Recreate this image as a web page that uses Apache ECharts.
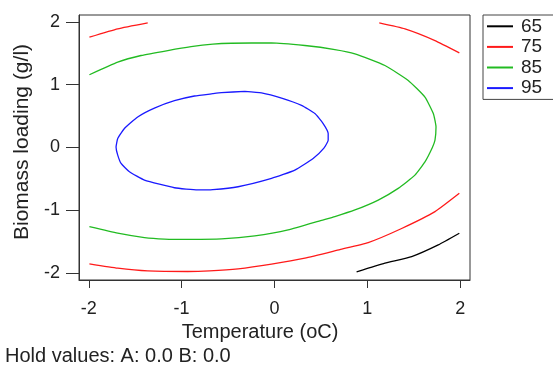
<!DOCTYPE html>
<html>
<head>
<meta charset="utf-8">
<script src="https://cdn.jsdelivr.net/npm/echarts@6/dist/echarts.min.js"></script>
<style>
  html, body { margin: 0; padding: 0; background: #fff; }
  #chart { width: 553px; height: 366px; }
</style>
</head>
<body>
<div id="chart"></div>
<script>
// contour levels and tick values
const levels = ["65", "75", "85", "95"];
const xTicks = [-2, -1, 0, 1, 2];
const yTicks = [-2, -1, 0, 1, 2];

// contour points [temperature, biomass loading]
const c65 = [[0.884, -1.979], [1.189, -1.841], [1.477, -1.737], [1.763, -1.551], [1.99, -1.365]];

const c75TopLeft = [[-1.993, 1.756], [-1.688, 1.889], [-1.365, 1.984]];
const c75TopRight = [[1.128, 1.984], [1.405, 1.889], [1.728, 1.703], [1.99, 1.508]];
const c75Bottom = [
  [-1.993, -1.852], [-1.688, -1.921], [-1.365, -1.965], [-0.934, -1.975], [-0.7, -1.965],
  [-0.392, -1.932], [-0.032, -1.857], [0.327, -1.762], [0.704, -1.625], [1.009, -1.514],
  [1.369, -1.29], [1.728, -1.022], [1.99, -0.73]
];

const c85 = [
  [-1.993, 1.159], [-1.688, 1.359], [-1.437, 1.465], [-1.149, 1.544], [-0.898, 1.605],
  [-0.664, 1.645], [-0.463, 1.66], [-0.032, 1.667], [0.327, 1.624], [0.65, 1.56],
  [0.866, 1.492], [1.189, 1.306], [1.44, 1.068], [1.62, 0.803], [1.71, 0.54],
  [1.739, 0.327], [1.728, 0.116], [1.7, 0.0], [1.62, -0.229],
  [1.512, -0.44], [1.332, -0.651], [1.117, -0.837], [0.866, -0.995], [0.65, -1.1],
  [0.507, -1.16], [0.147, -1.313], [-0.212, -1.408], [-0.571, -1.456], [-0.912, -1.463],
  [-1.185, -1.458], [-1.4, -1.435], [-1.688, -1.365], [-1.993, -1.26]
];

const c95 = [
  [-0.32, 0.894], [-0.571, 0.873], [-0.664, 0.857], [-0.862, 0.82], [-1.077, 0.745],
  [-1.293, 0.627], [-1.473, 0.486], [-1.616, 0.302], [-1.688, 0.143], [-1.706, 0.005],
  [-1.688, -0.122], [-1.652, -0.254], [-1.562, -0.387], [-1.4, -0.519], [-1.077, -0.641],
  [-0.826, -0.675], [-0.664, -0.67], [-0.392, -0.625], [-0.032, -0.492], [0.219, -0.36],
  [0.416, -0.175], [0.532, -0.011], [0.578, 0.116], [0.578, 0.222], [0.524, 0.381],
  [0.435, 0.54], [0.291, 0.671], [0.076, 0.787], [-0.14, 0.87], [-0.32, 0.894]
];

const colors = { "65": "#000000", "75": "#ff1a1a", "85": "#22bb22", "95": "#1a1aff" };
const font = "'Liberation Sans', Arial, sans-serif";

function contour(name, data) {
  return {
    type: "line",
    name: name,
    data: data,
    showSymbol: false,
    smooth: 0.15,
    silent: true,
    lineStyle: { color: colors[name], width: 1.3 },
    itemStyle: { color: colors[name] }
  };
}

const chart = echarts.init(document.getElementById("chart"), null, { renderer: "canvas" });

chart.setOption({
  animation: false,
  backgroundColor: "#fff",
  textStyle: { fontFamily: font },
  grid: {
    left: 79, right: 83, top: 15, bottom: 86,
    show: true, borderColor: "#333", borderWidth: 1, backgroundColor: "transparent"
  },
  legend: {
    data: levels,
    orient: "vertical",
    left: 483, top: 15,
    padding: [1, 40, 1, 4],
    itemGap: 0,
    itemWidth: 26, itemHeight: 2,
    icon: "rect",
    borderColor: "#444", borderWidth: 1,
    textStyle: { fontSize: 19, color: "#222", lineHeight: 20.6, padding: [0, 0, 0, 3], fontFamily: font }
  },
  xAxis: {
    type: "value",
    min: -2.105, max: 2.105,
    name: "Temperature (oC)",
    nameLocation: "middle",
    nameGap: 49,
    nameTextStyle: { fontSize: 20, color: "#222", verticalAlign: "middle", padding: [0, 29, 0, 0], fontFamily: font },
    axisLine: { show: true, onZero: false, lineStyle: { color: "#333", width: 1 } },
    axisTick: { show: true, length: 8, customValues: xTicks, lineStyle: { color: "#333" } },
    axisLabel: { customValues: xTicks, fontSize: 18, color: "#222", margin: 20, fontFamily: font },
    splitLine: { show: false }
  },
  yAxis: {
    type: "value",
    min: -2.11, max: 2.11,
    name: "Biomass loading (g/l)",
    nameLocation: "middle",
    nameGap: 55,
    nameTextStyle: { fontSize: 21, color: "#222", verticalAlign: "middle", padding: [0, 0, 0, 11], fontFamily: font },
    axisLine: { show: true, onZero: false, lineStyle: { color: "#333", width: 1 } },
    axisTick: { show: true, length: 13, customValues: yTicks, lineStyle: { color: "#333" } },
    axisLabel: { customValues: yTicks, fontSize: 18, color: "#222", margin: 19, fontFamily: font },
    splitLine: { show: false }
  },
  graphic: [{
    type: "text",
    left: 5,
    top: 346,
    style: { text: "Hold values: A: 0.0 B: 0.0", font: "20px " + font, fill: "#222" }
  }],
  series: [
    contour("65", c65),
    contour("75", c75TopLeft),
    contour("75", c75TopRight),
    contour("75", c75Bottom),
    contour("85", c85),
    contour("95", c95)
  ]
});
</script>
</body>
</html>
